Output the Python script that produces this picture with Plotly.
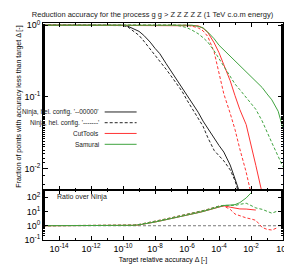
import plotly.graph_objects as go
from plotly.subplots import make_subplots

# ---------------- data ----------------
delta = [1e-15, 1e-11, 2e-11, 5e-11,
         1e-10, 2e-10, 5e-10, 1e-9, 2e-9, 5e-9, 1e-8, 2e-8, 5e-8,
         1e-7, 2e-7, 5e-7, 1e-6, 2e-6, 5e-6, 1e-5, 2e-5, 5e-5,
         1e-4, 2e-4, 5e-4, 1e-3, 2e-3, 5e-3, 1e-2, 2e-2, 5e-2,
         1e-1, 2e-1, 5e-1, 1.0]

N = None
ninja_a = [1, 1, 1, 1,
           0.995, 0.966, 0.89, 0.82, 0.72, 0.58, 0.475, 0.40, 0.29,
           0.23, 0.182, 0.133, 0.105, 0.083, 0.061, 0.046, 0.036, 0.026,
           0.021, 0.017, 0.0112, 0.0072, 0.0047, 0.0025, N, N, N,
           N, N, N, N]
ninja_b = [1, 1, 1, 1,
           0.986, 0.944, 0.82, 0.72, 0.60, 0.468, 0.386, 0.316, 0.242,
           0.196, 0.16, 0.119, 0.090, 0.0705, 0.0507, 0.039, 0.027, 0.0179,
           0.0151, 0.0128, 0.0096, 0.0068, 0.004, 0.002, N, N, N,
           N, N, N, N]
cuttools_a = [1, 1, 1, 1,
              1, 1, 1, 1, 1, 1, 1, 1, 1,
              1, 1, 1, 1, 1.0, 0.98, 0.906, 0.79, 0.566,
              0.413, 0.28, 0.168, 0.104, 0.0665, 0.041, 0.0202, 0.0111, 0.0045,
              N, N, N, N]
cuttools_b = [1, 1, 1, 1,
              1, 1, 1, 1, 1, 1, 1, 1, 1,
              1, 1, 1, 1.0, 0.97, 0.916, 0.834, 0.695, 0.42,
              0.224, 0.11, 0.059, 0.035, 0.0188, 0.0089, 0.0045, N, N,
              N, N, N, N]
samurai_a = [1, 1, 1, 1,
             1, 1, 1, 1, 1, 1, 1, 1, 1,
             1, 1, 1, 1, 1.0, 0.96, 0.92, 0.80, 0.645,
             0.525, 0.45, 0.365, 0.312, 0.267, 0.219, 0.19, 0.165, 0.135,
             0.11, 0.091, 0.063, 0.036]
samurai_b = [1, 1, 1, 1,
             1, 1, 1, 1, 1, 1, 1, 1, 1,
             1.0, 1.0, 0.96, 0.92, 0.855, 0.76, 0.67, 0.58, 0.437,
             0.344, 0.265, 0.192, 0.151, 0.126, 0.098, 0.082, 0.067, 0.046,
             0.032, 0.023, 0.0148, 0.0105]

# ratios over Ninja (same delta grid)
ratio_cuttools_a = [1, 1, 1, 1,
                    1.0, 1.02, 1.07, 1.15, 1.29, 1.55, 1.82, 2.14, 2.63,
                    3.09, 3.63, 4.57, 5.5, 6.6, 8.3, 10, 12.3, 17,
                    21.4, 25.1, 20, 16.6, 15.1, 14.8, 13.2, 12.6, N,
                    N, N, N, N]
ratio_cuttools_b = [1, 1, 1, 1,
                    1.01, 1.05, 1.12, 1.23, 1.41, 1.74, 2.04, 2.45, 3.02,
                    3.55, 4.17, 5.25, 6.3, 7.6, 9.5, 11.5, 14.1, 20,
                    24, 24, 14.1, 6.6, 4.8, 3.55, 3.0, 2.4, 0.76,
                    0.56, 0.5, 0.76, N]
ratio_samurai_a = [1, 1, 1, 1,
                   1.0, 1.02, 1.07, 1.15, 1.29, 1.55, 1.82, 2.14, 2.63,
                   3.09, 3.63, 4.57, 5.5, 6.6, 8.3, 10, 12.3, 17,
                   21.4, 26.3, 28.2, 30.2, 41.7, 89, 200, N, N,
                   N, N, N, N]
ratio_samurai_b = [1, 1, 1, 1,
                   1.01, 1.05, 1.12, 1.23, 1.41, 1.74, 2.04, 2.45, 3.02,
                   3.55, 4.17, 5.25, 6.3, 7.6, 9.5, 11.5, 14.1, 20,
                   24, 26.9, 25.1, 26.3, 31.6, 38, 26.3, 17.8, 14.1,
                   10, 7.6, 11.2, N]
ratio_ninja_x = [1e-15, 1.0]
ratio_ninja = [1, 1]

legend_labels = ["Ninja, hel. config. '--00000'", "Ninja, hel. config. '-------'",
                 "CutTools", "Samurai"]

x_tick_vals = [1e-14, 1e-12, 1e-10, 1e-8, 1e-6, 1e-4, 1e-2, 1]
x_tick_text = ["10<sup>-14</sup>", "10<sup>-12</sup>", "10<sup>-10</sup>", "10<sup>-8</sup>",
               "10<sup>-6</sup>", "10<sup>-4</sup>", "10<sup>-2</sup>", "10<sup>0</sup>"]
y_tick_vals = [1e-2, 1e-1, 1]
y_tick_text = ["10<sup>-2</sup>", "10<sup>-1</sup>", "10<sup>0</sup>"]
r_tick_vals = [1e-1, 1, 10, 100]
r_tick_text = ["10<sup>-1</sup>", "10<sup>0</sup>", "10<sup>1</sup>", "10<sup>2</sup>"]

# ---------------- styles ----------------
BLACK = "#222222"
RED = "#ff3333"
GREEN = "#3fa33f"
DASH = "3px,2px"
FONT = "Liberation Sans, Arial, sans-serif"

fig = make_subplots(rows=2, cols=1, shared_xaxes=True, vertical_spacing=0,
                    row_heights=[0.77, 0.23])

top = [(ninja_a, BLACK, "solid"), (ninja_b, BLACK, DASH),
       (cuttools_a, RED, "solid"), (cuttools_b, RED, DASH),
       (samurai_a, GREEN, "solid"), (samurai_b, GREEN, DASH)]
for ys, c, d in top:
    fig.add_trace(go.Scatter(x=delta, y=ys, mode="lines", showlegend=False,
                             line=dict(color=c, width=1, dash=d),
                             connectgaps=False), row=1, col=1)

fig.add_trace(go.Scatter(x=ratio_ninja_x, y=ratio_ninja, mode="lines", showlegend=False,
                         line=dict(color="#555555", width=0.8, dash=DASH)), row=2, col=1)
bot = [(ratio_cuttools_a, RED, "solid"), (ratio_cuttools_b, RED, DASH),
       (ratio_samurai_a, GREEN, "solid"), (ratio_samurai_b, GREEN, DASH)]
for ys, c, d in bot:
    fig.add_trace(go.Scatter(x=delta, y=ys, mode="lines", showlegend=False,
                             line=dict(color=c, width=1, dash=d)), row=2, col=1)

axis_common = dict(showline=True, linecolor="black", linewidth=1, mirror="ticks",
                   ticks="inside", tickcolor="black", showgrid=False, zeroline=False,
                   tickfont=dict(size=9, family=FONT, color="black"))

fig.update_xaxes(type="log", range=[-15, 0], tickvals=x_tick_vals, ticktext=x_tick_text,
                 ticklen=4, minor=dict(ticks="inside", ticklen=2, tickcolor="black",
                                       tickvals=[10.0 ** e for e in range(-15, 0, 2)]),
                 **axis_common)
fig.update_xaxes(showticklabels=False, row=1, col=1)
fig.update_xaxes(title=dict(text="Target relative accuracy Δ [-]", standoff=4,
                            font=dict(size=7, family=FONT, color="black")), row=2, col=1)

fig.update_yaxes(type="log", range=[-2.3, 0.03], tickvals=y_tick_vals, ticktext=y_tick_text,
                 ticklen=5, minor=dict(ticks="inside", ticklen=2, tickcolor="black"),
                 title=dict(text="Fraction of points with accuracy less than target Δ [-]",
                            standoff=2, font=dict(size=7, family=FONT, color="black")),
                 row=1, col=1, **axis_common)
fig.update_yaxes(type="log", range=[-1, 2.5], tickvals=r_tick_vals, ticktext=r_tick_text,
                 ticklen=5, minor=dict(ticks="inside", ticklen=2, tickcolor="black"),
                 row=2, col=1, **axis_common)

# custom legend (text right-aligned, line sample on the right)
anns = []
shapes = []
rows_y = [0.59, 0.5405, 0.491, 0.441]
styles = [(BLACK, "solid"), (BLACK, DASH), (RED, "solid"), (GREEN, "solid")]
for lab, yy, (c, d) in zip(legend_labels, rows_y, styles):
    anns.append(dict(text=lab, x=0.241, y=yy, xref="paper", yref="paper",
                     xanchor="right", yanchor="middle", showarrow=False,
                     font=dict(size=6.5, family=FONT, color="#222222")))
    shapes.append(dict(type="line", xref="paper", yref="paper", x0=0.257, x1=0.39,
                       y0=yy, y1=yy, line=dict(color=c, width=1, dash=d)))

anns.append(dict(text="Ratio over Ninja", x=0.048, y=0.197, xref="paper", yref="paper",
                 xanchor="left", yanchor="middle", showarrow=False,
                 font=dict(size=7, family=FONT, color="#222222")))
anns.append(dict(text="MadGraph5_aMC@NLO", x=1.016, y=0.39, xref="paper", yref="paper",
                 xanchor="center", yanchor="middle", textangle=-90, showarrow=False,
                 borderpad=0, font=dict(size=5.5, family=FONT, color="#777777")))

fig.update_layout(
    width=292, height=265,
    margin=dict(l=33, r=10, t=15, b=28),
    paper_bgcolor="white", plot_bgcolor="white",
    title=dict(text="Reduction accuracy for the process g g > Z Z Z Z Z (1 TeV c.o.m energy)",
               x=0.495, xanchor="center", y=0.975, yanchor="middle",
               font=dict(size=7.5, family=FONT, color="#222222")),
    annotations=anns, shapes=shapes,
    font=dict(family=FONT),
)

fig.write_html("out.html")
